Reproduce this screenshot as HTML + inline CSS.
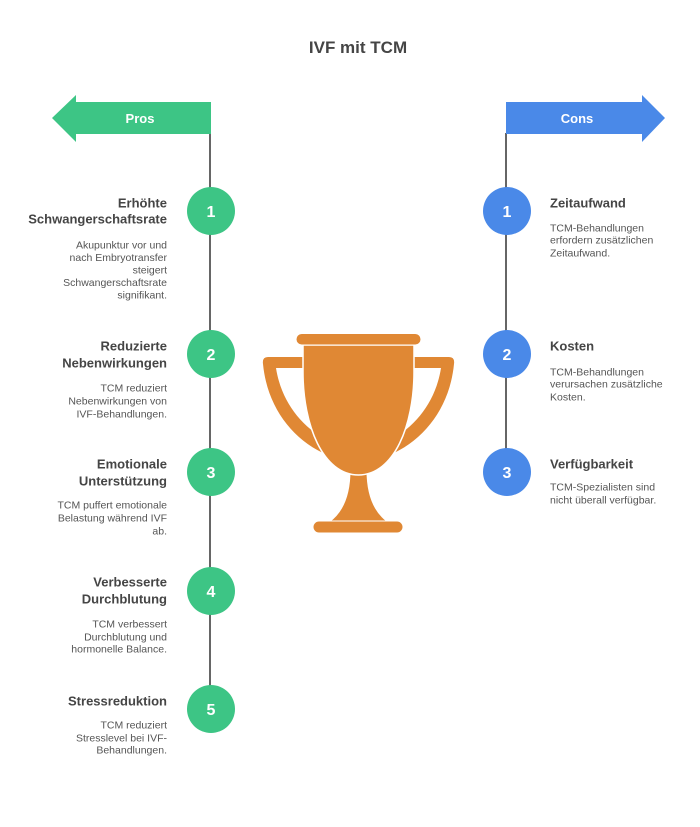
<!DOCTYPE html>
<html>
<head>
<meta charset="utf-8">
<style>
  html, body { margin: 0; padding: 0; background: #ffffff; }
  svg { display: block; }
  text { font-family: "Liberation Sans", Arial, sans-serif; }
  .t { font-weight: bold; font-size: 13px; fill: #454545; }
  .d { font-size: 10.5px; fill: #555555; }
  .n { font-weight: bold; font-size: 16px; fill: #ffffff; text-anchor: middle; }
</style>
</head>
<body>
<svg width="700" height="827" viewBox="0 0 700 827" xmlns="http://www.w3.org/2000/svg">
  <rect width="700" height="827" fill="#ffffff"/>

  <!-- Title -->
  <text x="358" y="53" text-anchor="middle" style="font-weight:bold;font-size:17px;fill:#454545">IVF mit TCM</text>

  <!-- Vertical lines -->
  <line x1="210" y1="133" x2="210" y2="690" stroke="#666666" stroke-width="2"/>
  <line x1="506" y1="133" x2="506" y2="452" stroke="#666666" stroke-width="2"/>

  <!-- Pros arrow -->
  <polygon points="52,118 76,95 76,102 211,102 211,134 76,134 76,142" fill="#3DC585"/>
  <text x="140" y="123" text-anchor="middle" style="font-weight:bold;font-size:13px;fill:#ffffff">Pros</text>

  <!-- Cons arrow -->
  <polygon points="506,102 642,102 642,95 665,118 642,142 642,134 506,134" fill="#4A89E8"/>
  <text x="577" y="123" text-anchor="middle" style="font-weight:bold;font-size:13px;fill:#ffffff">Cons</text>

  <!-- Green circles -->
  <g fill="#3DC585">
    <circle cx="211" cy="211" r="24"/>
    <circle cx="211" cy="354" r="24"/>
    <circle cx="211" cy="472" r="24"/>
    <circle cx="211" cy="591" r="24"/>
    <circle cx="211" cy="709" r="24"/>
  </g>
  <text class="n" x="211" y="217">1</text>
  <text class="n" x="211" y="360">2</text>
  <text class="n" x="211" y="478">3</text>
  <text class="n" x="211" y="597">4</text>
  <text class="n" x="211" y="715">5</text>

  <!-- Blue circles -->
  <g fill="#4A89E8">
    <circle cx="507" cy="211" r="24"/>
    <circle cx="507" cy="354" r="24"/>
    <circle cx="507" cy="472" r="24"/>
  </g>
  <text class="n" x="507" y="217">1</text>
  <text class="n" x="507" y="360">2</text>
  <text class="n" x="507" y="478">3</text>

  <!-- Left texts -->
  <g text-anchor="end">
    <text class="t" x="167" y="207.5">Erhöhte</text>
    <text class="t" x="167" y="223.5">Schwangerschaftsrate</text>
    <text class="d" x="167" y="248.7">Akupunktur vor und</text>
    <text class="d" x="167" y="261.2">nach Embryotransfer</text>
    <text class="d" x="167" y="273.7">steigert</text>
    <text class="d" x="167" y="286.2">Schwangerschaftsrate</text>
    <text class="d" x="167" y="298.7">signifikant.</text>

    <text class="t" x="167" y="350.5">Reduzierte</text>
    <text class="t" x="167" y="367.5">Nebenwirkungen</text>
    <text class="d" x="167" y="391.7">TCM reduziert</text>
    <text class="d" x="167" y="404.7">Nebenwirkungen von</text>
    <text class="d" x="167" y="417.7">IVF-Behandlungen.</text>

    <text class="t" x="167" y="468.5">Emotionale</text>
    <text class="t" x="167" y="485.5">Unterstützung</text>
    <text class="d" x="167" y="508.7">TCM puffert emotionale</text>
    <text class="d" x="167" y="521.7">Belastung während IVF</text>
    <text class="d" x="167" y="534.7">ab.</text>

    <text class="t" x="167" y="586.5">Verbesserte</text>
    <text class="t" x="167" y="603.5">Durchblutung</text>
    <text class="d" x="167" y="627.7">TCM verbessert</text>
    <text class="d" x="167" y="640.7">Durchblutung und</text>
    <text class="d" x="167" y="652.7">hormonelle Balance.</text>

    <text class="t" x="167" y="705.5">Stressreduktion</text>
    <text class="d" x="167" y="728.7">TCM reduziert</text>
    <text class="d" x="167" y="741.7">Stresslevel bei IVF-</text>
    <text class="d" x="167" y="753.7">Behandlungen.</text>
  </g>

  <!-- Right texts -->
  <g text-anchor="start">
    <text class="t" x="550" y="207.5">Zeitaufwand</text>
    <text class="d" x="550" y="231.7">TCM-Behandlungen</text>
    <text class="d" x="550" y="243.7">erfordern zusätzlichen</text>
    <text class="d" x="550" y="256.7">Zeitaufwand.</text>

    <text class="t" x="550" y="350.5">Kosten</text>
    <text class="d" x="550" y="375.7">TCM-Behandlungen</text>
    <text class="d" x="550" y="387.7">verursachen zusätzliche</text>
    <text class="d" x="550" y="400.7">Kosten.</text>

    <text class="t" x="550" y="468.5">Verfügbarkeit</text>
    <text class="d" x="550" y="490.7">TCM-Spezialisten sind</text>
    <text class="d" x="550" y="503.7">nicht überall verfügbar.</text>
  </g>

  <!-- Trophy -->
  <g fill="#E08834">
    <!-- left handle -->
    <path d="M305,357 L268,357 Q262,357 263,364 C267,405 290,437 323,453 L327,440 C300,426 281,400 276,368 L305,368 Z"/>
    <!-- right handle -->
    <path d="M412,357 L449,357 Q455,357 454,364 C450,405 427,437 394,453 L390,440 C417,426 436,400 441,368 L412,368 Z"/>
    <!-- stem -->
    <path d="M350,470 H367 C367,495 374,512 388,522 H329 C343,512 350,495 350,470 Z" stroke="#ffffff" stroke-width="1"/>
    <!-- cup -->
    <path d="M303,345 H414 V372 C414,425 394,475 358.5,475 C323,475 303,425 303,372 Z" stroke="#ffffff" stroke-width="1.5"/>
    <!-- rim -->
    <rect x="296" y="333.5" width="125" height="11.5" rx="5.75" stroke="#ffffff" stroke-width="1"/>
    <!-- base -->
    <rect x="313" y="521" width="90" height="12" rx="6" stroke="#ffffff" stroke-width="1"/>
  </g>
</svg>
</body>
</html>
